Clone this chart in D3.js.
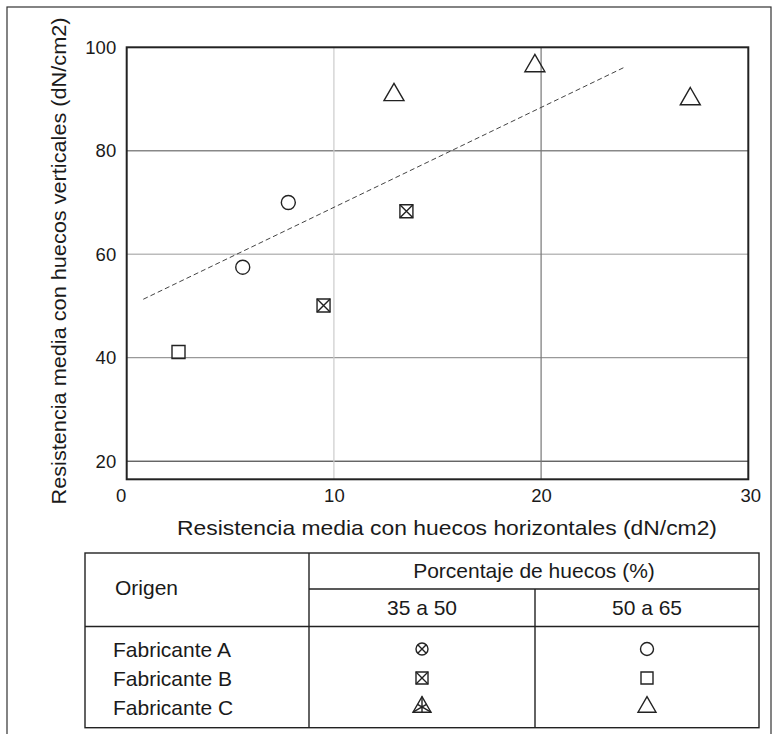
<!DOCTYPE html>
<html>
  <head>
    <meta charset="utf-8" />
    <title>Resistencia media</title>
    <script src="https://d3js.org/d3.v7.min.js"></script>
    <style>
      body { margin: 0; background: #fff; }
      text { font-family: "Liberation Sans", Arial, sans-serif; fill: #1a1a1a; }
    </style>
  </head>
  <body>
    <svg id="chart" width="777" height="734"></svg>
    <script>
      // Datos
      const xTicks = [0, 10, 20, 30];
      const yTicks = [20, 40, 60, 80, 100];
      const fabA_50_65 = [[5.6, 57.5], [7.8, 70.0]];
      const fabB_50_65 = [[2.5, 41.1]];
      const fabB_35_50 = [[9.5, 50.1], [13.5, 68.3]];
      const fabC_50_65 = [[12.9, 90.8], [19.7, 96.4], [27.2, 90.0]];
      const trend = [[0.8, 51.3], [24.0, 96.1]];
      const origins = ["Fabricante A", "Fabricante B", "Fabricante C"];
      const ranges = ["35 a 50", "50 a 65"];
      const legendSymbols = [["circleX", "circle"], ["squareX", "square"], ["triangleX", "triangle"]];

      const svg = d3.select("#chart");
      const plot = { left: 126.7, right: 748.3, top: 47.3, bottom: 479.3 };

      // Marco exterior
      svg.append("rect")
        .attr("x", 7).attr("y", 7).attr("width", 764).attr("height", 740)
        .attr("fill", "none").attr("stroke", "#333").attr("stroke-width", 1.2);

      const x = d3.scaleLinear().domain([0, 30]).range([plot.left, plot.right]);
      const y = d3.scaleLinear().domain([16.5, 100]).range([plot.bottom, plot.top]);

      // Rejilla
      const hColors = { 20: "#222", 40: "#999", 60: "#bbb", 80: "#888" };
      svg.append("g").selectAll("line")
        .data(yTicks.filter((d) => d < 100))
        .join("line")
        .attr("x1", plot.left).attr("x2", plot.right)
        .attr("y1", (d) => y(d)).attr("y2", (d) => y(d))
        .attr("stroke", (d) => hColors[d])
        .attr("stroke-width", (d) => (d === 20 ? 1 : 1.3));
      const vColors = { 10: "#ccc", 20: "#777" };
      svg.append("g").selectAll("line")
        .data(xTicks.filter((d) => d > 0 && d < 30))
        .join("line")
        .attr("x1", (d) => x(d)).attr("x2", (d) => x(d))
        .attr("y1", plot.top).attr("y2", plot.bottom)
        .attr("stroke", (d) => vColors[d])
        .attr("stroke-width", 1.2);

      // Borde del área
      svg.append("rect")
        .attr("x", plot.left).attr("y", plot.top)
        .attr("width", plot.right - plot.left).attr("height", plot.bottom - plot.top)
        .attr("fill", "none").attr("stroke", "#222").attr("stroke-width", 2);

      // Ejes (solo etiquetas)
      const xAxis = d3.axisBottom(x).tickValues(xTicks).tickSize(0).tickPadding(10);
      svg.append("g")
        .attr("transform", `translate(0,${plot.bottom})`)
        .call(xAxis)
        .call((g) => g.select(".domain").remove())
        .call((g) => g.attr("font-size", 18.5).attr("font-family", null))
        .selectAll("text")
        .attr("dx", (d) => (d === 0 ? -6 : d === 30 ? 2 : 0));
      const yAxis = d3.axisLeft(y).tickValues(yTicks).tickSize(0).tickPadding(10.5);
      svg.append("g")
        .attr("transform", `translate(${plot.left},0)`)
        .call(yAxis)
        .call((g) => g.select(".domain").remove())
        .call((g) => g.attr("font-size", 18.5).attr("font-family", null));

      // Línea de tendencia
      svg.append("path")
        .datum(trend)
        .attr("d", d3.line().x((d) => x(d[0])).y((d) => y(d[1])))
        .attr("fill", "none").attr("stroke", "#444")
        .attr("stroke-width", 1).attr("stroke-dasharray", "5,3");

      // Símbolos
      function drawSymbol(g, type, cx, cy, s) {
        const st = { stroke: "#222", sw: 1.4 };
        const add = (d) => g.append("path").attr("d", d)
          .attr("fill", "none").attr("stroke", st.stroke).attr("stroke-width", st.sw);
        if (type.startsWith("circle")) {
          const r = s / 2;
          g.append("circle").attr("cx", cx).attr("cy", cy).attr("r", r)
            .attr("fill", "none").attr("stroke", st.stroke).attr("stroke-width", st.sw);
          if (type === "circleX") {
            const k = r * Math.SQRT1_2;
            add(`M${cx - k},${cy - k}L${cx + k},${cy + k}M${cx - k},${cy + k}L${cx + k},${cy - k}`);
          }
        } else if (type.startsWith("square")) {
          const h = s / 2;
          add(`M${cx - h},${cy - h}H${cx + h}V${cy + h}H${cx - h}Z`);
          if (type === "squareX") {
            add(`M${cx - h},${cy - h}L${cx + h},${cy + h}M${cx - h},${cy + h}L${cx + h},${cy - h}`);
          }
        } else {
          const w = s / 2, ht = s * 0.866;
          const top = [cx, cy - ht * 2 / 3], bl = [cx - w, cy + ht / 3], br = [cx + w, cy + ht / 3];
          add(`M${top}L${br}L${bl}Z`);
          if (type === "triangleX") {
            const mid = (a, b) => [(a[0] + b[0]) / 2, (a[1] + b[1]) / 2];
            add(`M${top}L${mid(bl, br)}M${bl}L${mid(top, br)}M${br}L${mid(top, bl)}`);
          }
        }
      }

      const marks = svg.append("g");
      const series = [
        { data: fabA_50_65, type: "circle", size: 14 },
        { data: fabB_50_65, type: "square", size: 13 },
        { data: fabB_35_50, type: "squareX", size: 13 },
        { data: fabC_50_65, type: "triangle", size: 20 },
      ];
      series.forEach((s) => s.data.forEach((d) => drawSymbol(marks, s.type, x(d[0]), y(d[1]), s.size)));

      // Títulos de ejes
      svg.append("text")
        .attr("x", 447).attr("y", 535)
        .attr("text-anchor", "middle").attr("font-size", 21)
        .attr("textLength", 540).attr("lengthAdjust", "spacingAndGlyphs")
        .text("Resistencia media con huecos horizontales (dN/cm2)");
      svg.append("text")
        .attr("transform", "translate(66,261) rotate(-90)")
        .attr("text-anchor", "middle").attr("font-size", 21)
        .attr("textLength", 487).attr("lengthAdjust", "spacingAndGlyphs")
        .text("Resistencia media con huecos verticales (dN/cm2)");

      // Tabla de leyenda
      const tb = { left: 85, right: 759, top: 553, mid: 589, head: 626.5, bottom: 727.7, c1: 309, c2: 535 };
      const tg = svg.append("g").attr("stroke", "#222").attr("stroke-width", 1.4);
      tg.append("rect").attr("x", tb.left).attr("y", tb.top)
        .attr("width", tb.right - tb.left).attr("height", tb.bottom - tb.top).attr("fill", "none");
      tg.append("line").attr("x1", tb.c1).attr("x2", tb.c1).attr("y1", tb.top).attr("y2", tb.bottom);
      tg.append("line").attr("x1", tb.c2).attr("x2", tb.c2).attr("y1", tb.mid).attr("y2", tb.bottom);
      tg.append("line").attr("x1", tb.c1).attr("x2", tb.right).attr("y1", tb.mid).attr("y2", tb.mid);
      tg.append("line").attr("x1", tb.left).attr("x2", tb.right).attr("y1", tb.head).attr("y2", tb.head);

      const fs = 21;
      svg.append("text").attr("x", 115).attr("y", 595).attr("font-size", fs).text("Origen");
      svg.append("text").attr("x", (tb.c1 + tb.right) / 2).attr("y", 578)
        .attr("text-anchor", "middle").attr("font-size", fs).text("Porcentaje de huecos (%)");
      const colX = [(tb.c1 + tb.c2) / 2, (tb.c2 + tb.right) / 2];
      svg.selectAll(".rangeLbl").data(ranges).join("text")
        .attr("x", (d, i) => colX[i]).attr("y", 615)
        .attr("text-anchor", "middle").attr("font-size", fs).text((d) => d);

      const rowY = [649, 678, 707];
      svg.selectAll(".originLbl").data(origins).join("text")
        .attr("x", 113).attr("y", (d, i) => rowY[i] + 7.5)
        .attr("font-size", fs).text((d) => d);
      const lg = svg.append("g");
      legendSymbols.forEach((row, i) => row.forEach((t, j) => {
        const sz = t.startsWith("triangle") ? 18 : t === "circle" ? 13 : 12;
        drawSymbol(lg, t, colX[j], rowY[i], sz);
      }));
    </script>
  </body>
</html>
